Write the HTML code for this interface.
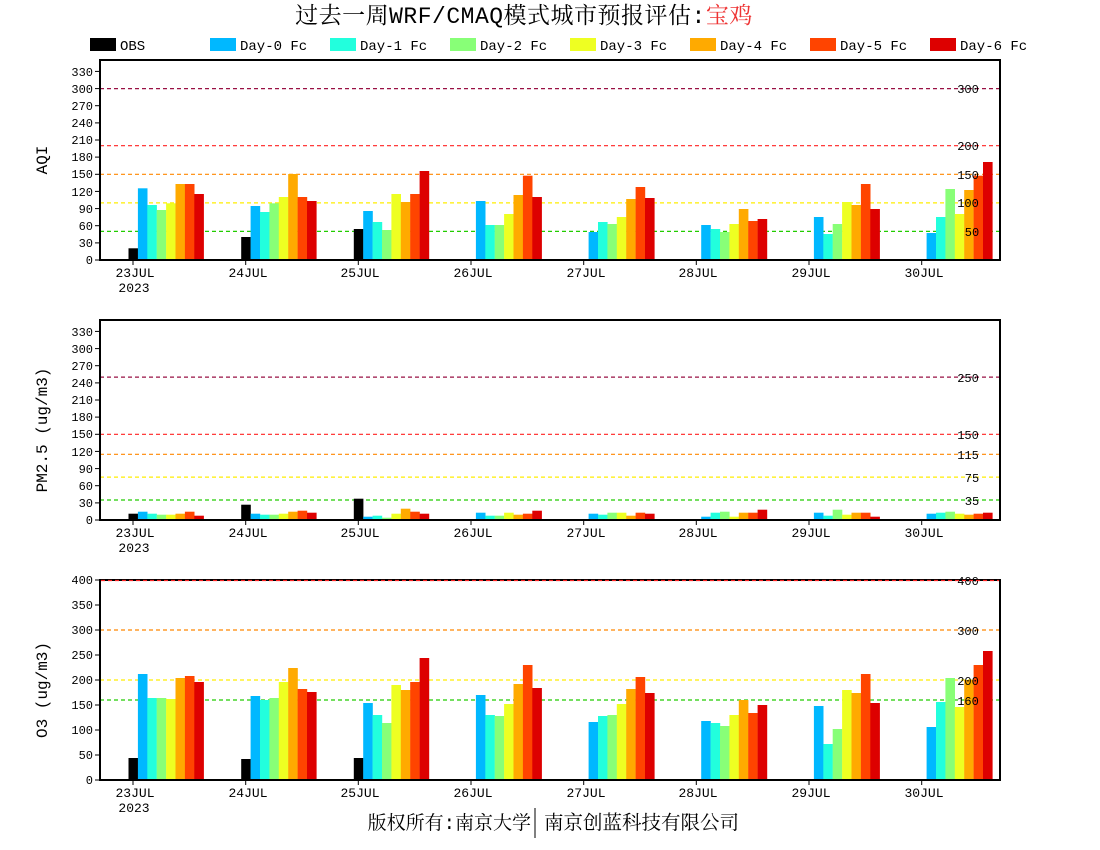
<!DOCTYPE html>
<html><head><meta charset="utf-8"><style>
html,body{margin:0;padding:0;background:#fff;}
svg{display:block;}
text{font-family:"Liberation Mono","Noto Sans CJK SC",monospace;}
.yl{font-size:12px;text-anchor:end;}
.rl{font-size:12px;text-anchor:middle;}
.xl{font-size:13px;text-anchor:middle;}
</style></head><body>
<svg width="1100" height="850" viewBox="0 0 1100 850" xmlns="http://www.w3.org/2000/svg">
<!-- Title -->
<text x="524" y="23" text-anchor="middle" style="font-family:'Liberation Mono','Noto Serif CJK SC',serif;font-size:23px;letter-spacing:0.5px">过去一周WRF/CMAQ模式城市预报评估:<tspan fill="#ee3333">宝鸡</tspan></text>
<!-- Legend -->
<g style="font-size:14px">
<rect x="90" y="38" width="26" height="13" fill="#000"/><text x="120" y="50">OBS</text>
<rect x="210" y="38" width="26" height="13" fill="#00b8ff"/><text x="240" y="50">Day-0 Fc</text>
<rect x="330" y="38" width="26" height="13" fill="#22ffdd"/><text x="360" y="50">Day-1 Fc</text>
<rect x="450" y="38" width="26" height="13" fill="#88ff77"/><text x="480" y="50">Day-2 Fc</text>
<rect x="570" y="38" width="26" height="13" fill="#eeff22"/><text x="600" y="50">Day-3 Fc</text>
<rect x="690" y="38" width="26" height="13" fill="#ffaa00"/><text x="720" y="50">Day-4 Fc</text>
<rect x="810" y="38" width="26" height="13" fill="#ff4400"/><text x="840" y="50">Day-5 Fc</text>
<rect x="930" y="38" width="26" height="13" fill="#dd0000"/><text x="960" y="50">Day-6 Fc</text>
</g>

<!-- ========== PANEL 1 AQI ========== -->
<g stroke-dasharray="4,3" stroke-width="1.2">
<line x1="100" x2="1000" y1="88.6" y2="88.6" stroke="#991144"/>
<line x1="100" x2="1000" y1="145.7" y2="145.7" stroke="#ff2222"/>
<line x1="100" x2="1000" y1="174.3" y2="174.3" stroke="#ff8800"/>
<line x1="100" x2="1000" y1="202.9" y2="202.9" stroke="#ffee00"/>
<line x1="100" x2="1000" y1="231.4" y2="231.4" stroke="#22cc00"/>
</g>
<g class="bars">
<g transform="translate(133,260) scale(1,-1)"><rect x="-4.5" y="0" width="9.6" height="11.7" fill="#000"/><rect x="4.9" y="0" width="9.6" height="71.7" fill="#00b8ff"/><rect x="14.3" y="0" width="9.6" height="55" fill="#22ffdd"/><rect x="23.7" y="0" width="9.6" height="50" fill="#88ff77"/><rect x="33.1" y="0" width="9.6" height="56.7" fill="#eeff22"/><rect x="42.5" y="0" width="9.6" height="76" fill="#ffaa00"/><rect x="51.9" y="0" width="9.6" height="76" fill="#ff4400"/><rect x="61.3" y="0" width="9.6" height="66" fill="#dd0000"/></g>
<g transform="translate(245.7,260) scale(1,-1)"><rect x="-4.5" y="0" width="9.6" height="23" fill="#000"/><rect x="4.9" y="0" width="9.6" height="54" fill="#00b8ff"/><rect x="14.3" y="0" width="9.6" height="48" fill="#22ffdd"/><rect x="23.7" y="0" width="9.6" height="56.7" fill="#88ff77"/><rect x="33.1" y="0" width="9.6" height="63" fill="#eeff22"/><rect x="42.5" y="0" width="9.6" height="86" fill="#ffaa00"/><rect x="51.9" y="0" width="9.6" height="63" fill="#ff4400"/><rect x="61.3" y="0" width="9.6" height="59" fill="#dd0000"/></g>
<g transform="translate(358.3,260) scale(1,-1)"><rect x="-4.5" y="0" width="9.6" height="31" fill="#000"/><rect x="4.9" y="0" width="9.6" height="49" fill="#00b8ff"/><rect x="14.3" y="0" width="9.6" height="38" fill="#22ffdd"/><rect x="23.7" y="0" width="9.6" height="30" fill="#88ff77"/><rect x="33.1" y="0" width="9.6" height="66" fill="#eeff22"/><rect x="42.5" y="0" width="9.6" height="58" fill="#ffaa00"/><rect x="51.9" y="0" width="9.6" height="66" fill="#ff4400"/><rect x="61.3" y="0" width="9.6" height="89" fill="#dd0000"/></g>
<g transform="translate(471,260) scale(1,-1)"><rect x="4.9" y="0" width="9.6" height="59" fill="#00b8ff"/><rect x="14.3" y="0" width="9.6" height="35" fill="#22ffdd"/><rect x="23.7" y="0" width="9.6" height="35" fill="#88ff77"/><rect x="33.1" y="0" width="9.6" height="46" fill="#eeff22"/><rect x="42.5" y="0" width="9.6" height="65" fill="#ffaa00"/><rect x="51.9" y="0" width="9.6" height="84.3" fill="#ff4400"/><rect x="61.3" y="0" width="9.6" height="63" fill="#dd0000"/></g>
<g transform="translate(583.7,260) scale(1,-1)"><rect x="4.9" y="0" width="9.6" height="28" fill="#00b8ff"/><rect x="14.3" y="0" width="9.6" height="38" fill="#22ffdd"/><rect x="23.7" y="0" width="9.6" height="36" fill="#88ff77"/><rect x="33.1" y="0" width="9.6" height="43" fill="#eeff22"/><rect x="42.5" y="0" width="9.6" height="61" fill="#ffaa00"/><rect x="51.9" y="0" width="9.6" height="73" fill="#ff4400"/><rect x="61.3" y="0" width="9.6" height="62" fill="#dd0000"/></g>
<g transform="translate(696.3,260) scale(1,-1)"><rect x="4.9" y="0" width="9.6" height="35" fill="#00b8ff"/><rect x="14.3" y="0" width="9.6" height="31" fill="#22ffdd"/><rect x="23.7" y="0" width="9.6" height="28" fill="#88ff77"/><rect x="33.1" y="0" width="9.6" height="36" fill="#eeff22"/><rect x="42.5" y="0" width="9.6" height="51" fill="#ffaa00"/><rect x="51.9" y="0" width="9.6" height="39" fill="#ff4400"/><rect x="61.3" y="0" width="9.6" height="41" fill="#dd0000"/></g>
<g transform="translate(809,260) scale(1,-1)"><rect x="4.9" y="0" width="9.6" height="43" fill="#00b8ff"/><rect x="14.3" y="0" width="9.6" height="26" fill="#22ffdd"/><rect x="23.7" y="0" width="9.6" height="36" fill="#88ff77"/><rect x="33.1" y="0" width="9.6" height="58" fill="#eeff22"/><rect x="42.5" y="0" width="9.6" height="55" fill="#ffaa00"/><rect x="51.9" y="0" width="9.6" height="76" fill="#ff4400"/><rect x="61.3" y="0" width="9.6" height="51" fill="#dd0000"/></g>
<g transform="translate(921.7,260) scale(1,-1)"><rect x="4.9" y="0" width="9.6" height="27" fill="#00b8ff"/><rect x="14.3" y="0" width="9.6" height="43" fill="#22ffdd"/><rect x="23.7" y="0" width="9.6" height="71" fill="#88ff77"/><rect x="33.1" y="0" width="9.6" height="46" fill="#eeff22"/><rect x="42.5" y="0" width="9.6" height="70" fill="#ffaa00"/><rect x="51.9" y="0" width="9.6" height="84.3" fill="#ff4400"/><rect x="61.3" y="0" width="9.6" height="98" fill="#dd0000"/></g>
</g>
<g class="rl"><text x="968" y="93">300</text><text x="968" y="150">200</text><text x="968" y="179">150</text><text x="968" y="207">100</text><text x="972" y="236">50</text></g>
<rect x="100" y="60" width="900" height="200" fill="none" stroke="#000" stroke-width="2"/>
<g stroke="#000" stroke-width="1">
<line x1="95" x2="100" y1="260" y2="260"/><line x1="95" x2="100" y1="242.9" y2="242.9"/><line x1="95" x2="100" y1="225.7" y2="225.7"/><line x1="95" x2="100" y1="208.6" y2="208.6"/><line x1="95" x2="100" y1="191.4" y2="191.4"/><line x1="95" x2="100" y1="174.3" y2="174.3"/><line x1="95" x2="100" y1="157.1" y2="157.1"/><line x1="95" x2="100" y1="140" y2="140"/><line x1="95" x2="100" y1="122.9" y2="122.9"/><line x1="95" x2="100" y1="105.7" y2="105.7"/><line x1="95" x2="100" y1="88.6" y2="88.6"/><line x1="95" x2="100" y1="71.4" y2="71.4"/>
<line x1="133" x2="133" y1="260" y2="265"/><line x1="245.7" x2="245.7" y1="260" y2="265"/><line x1="358.3" x2="358.3" y1="260" y2="265"/><line x1="471" x2="471" y1="260" y2="265"/><line x1="583.7" x2="583.7" y1="260" y2="265"/><line x1="696.3" x2="696.3" y1="260" y2="265"/><line x1="809" x2="809" y1="260" y2="265"/><line x1="921.7" x2="921.7" y1="260" y2="265"/>
</g>
<g class="yl"><text x="93" y="264">0</text><text x="93" y="247">30</text><text x="93" y="230">60</text><text x="93" y="213">90</text><text x="93" y="196">120</text><text x="93" y="178">150</text><text x="93" y="161">180</text><text x="93" y="144">210</text><text x="93" y="127">240</text><text x="93" y="110">270</text><text x="93" y="93">300</text><text x="93" y="76">330</text></g>
<g class="xl"><text x="135" y="277">23JUL</text><text x="134" y="292">2023</text><text x="248" y="277">24JUL</text><text x="360" y="277">25JUL</text><text x="473" y="277">26JUL</text><text x="586" y="277">27JUL</text><text x="698" y="277">28JUL</text><text x="811" y="277">29JUL</text><text x="924" y="277">30JUL</text></g>
<text transform="translate(47,160) rotate(-90)" text-anchor="middle" style="font-size:16px">AQI</text>

<!-- ========== PANEL 2 PM2.5 ========== -->
<g stroke-dasharray="4,3" stroke-width="1.2">
<line x1="100" x2="1000" y1="377.1" y2="377.1" stroke="#991144"/>
<line x1="100" x2="1000" y1="434.3" y2="434.3" stroke="#ff2222"/>
<line x1="100" x2="1000" y1="454.3" y2="454.3" stroke="#ff8800"/>
<line x1="100" x2="1000" y1="477.1" y2="477.1" stroke="#ffee00"/>
<line x1="100" x2="1000" y1="500" y2="500" stroke="#22cc00"/>
</g>
<g>
<g transform="translate(133,520) scale(1,-1)"><rect x="-4.5" y="0" width="9.6" height="6.3" fill="#000"/><rect x="4.9" y="0" width="9.6" height="8.3" fill="#00b8ff"/><rect x="14.3" y="0" width="9.6" height="6.3" fill="#22ffdd"/><rect x="23.7" y="0" width="9.6" height="5.3" fill="#88ff77"/><rect x="33.1" y="0" width="9.6" height="5.3" fill="#eeff22"/><rect x="42.5" y="0" width="9.6" height="6.3" fill="#ffaa00"/><rect x="51.9" y="0" width="9.6" height="8.3" fill="#ff4400"/><rect x="61.3" y="0" width="9.6" height="4.3" fill="#dd0000"/></g>
<g transform="translate(245.7,520) scale(1,-1)"><rect x="-4.5" y="0" width="9.6" height="15.3" fill="#000"/><rect x="4.9" y="0" width="9.6" height="6.3" fill="#00b8ff"/><rect x="14.3" y="0" width="9.6" height="5.3" fill="#22ffdd"/><rect x="23.7" y="0" width="9.6" height="5.3" fill="#88ff77"/><rect x="33.1" y="0" width="9.6" height="6.3" fill="#eeff22"/><rect x="42.5" y="0" width="9.6" height="8.3" fill="#ffaa00"/><rect x="51.9" y="0" width="9.6" height="9.3" fill="#ff4400"/><rect x="61.3" y="0" width="9.6" height="7.3" fill="#dd0000"/></g>
<g transform="translate(358.3,520) scale(1,-1)"><rect x="-4.5" y="0" width="9.6" height="21.3" fill="#000"/><rect x="4.9" y="0" width="9.6" height="3.3" fill="#00b8ff"/><rect x="14.3" y="0" width="9.6" height="4.3" fill="#22ffdd"/><rect x="23.7" y="0" width="9.6" height="2.3" fill="#88ff77"/><rect x="33.1" y="0" width="9.6" height="6.3" fill="#eeff22"/><rect x="42.5" y="0" width="9.6" height="11.3" fill="#ffaa00"/><rect x="51.9" y="0" width="9.6" height="8.3" fill="#ff4400"/><rect x="61.3" y="0" width="9.6" height="6.3" fill="#dd0000"/></g>
<g transform="translate(471,520) scale(1,-1)"><rect x="4.9" y="0" width="9.6" height="7.3" fill="#00b8ff"/><rect x="14.3" y="0" width="9.6" height="4.3" fill="#22ffdd"/><rect x="23.7" y="0" width="9.6" height="4.3" fill="#88ff77"/><rect x="33.1" y="0" width="9.6" height="7.3" fill="#eeff22"/><rect x="42.5" y="0" width="9.6" height="5.3" fill="#ffaa00"/><rect x="51.9" y="0" width="9.6" height="6.3" fill="#ff4400"/><rect x="61.3" y="0" width="9.6" height="9.3" fill="#dd0000"/></g>
<g transform="translate(583.7,520) scale(1,-1)"><rect x="4.9" y="0" width="9.6" height="6.3" fill="#00b8ff"/><rect x="14.3" y="0" width="9.6" height="5.3" fill="#22ffdd"/><rect x="23.7" y="0" width="9.6" height="7.3" fill="#88ff77"/><rect x="33.1" y="0" width="9.6" height="7.3" fill="#eeff22"/><rect x="42.5" y="0" width="9.6" height="4.3" fill="#ffaa00"/><rect x="51.9" y="0" width="9.6" height="7.3" fill="#ff4400"/><rect x="61.3" y="0" width="9.6" height="6.3" fill="#dd0000"/></g>
<g transform="translate(696.3,520) scale(1,-1)"><rect x="4.9" y="0" width="9.6" height="3.3" fill="#00b8ff"/><rect x="14.3" y="0" width="9.6" height="7.3" fill="#22ffdd"/><rect x="23.7" y="0" width="9.6" height="8.3" fill="#88ff77"/><rect x="33.1" y="0" width="9.6" height="3.3" fill="#eeff22"/><rect x="42.5" y="0" width="9.6" height="7.3" fill="#ffaa00"/><rect x="51.9" y="0" width="9.6" height="7.3" fill="#ff4400"/><rect x="61.3" y="0" width="9.6" height="10.3" fill="#dd0000"/></g>
<g transform="translate(809,520) scale(1,-1)"><rect x="4.9" y="0" width="9.6" height="7.3" fill="#00b8ff"/><rect x="14.3" y="0" width="9.6" height="4.3" fill="#22ffdd"/><rect x="23.7" y="0" width="9.6" height="10.3" fill="#88ff77"/><rect x="33.1" y="0" width="9.6" height="5.3" fill="#eeff22"/><rect x="42.5" y="0" width="9.6" height="7.3" fill="#ffaa00"/><rect x="51.9" y="0" width="9.6" height="7.3" fill="#ff4400"/><rect x="61.3" y="0" width="9.6" height="3.3" fill="#dd0000"/></g>
<g transform="translate(921.7,520) scale(1,-1)"><rect x="4.9" y="0" width="9.6" height="6.3" fill="#00b8ff"/><rect x="14.3" y="0" width="9.6" height="7.3" fill="#22ffdd"/><rect x="23.7" y="0" width="9.6" height="8.3" fill="#88ff77"/><rect x="33.1" y="0" width="9.6" height="6.3" fill="#eeff22"/><rect x="42.5" y="0" width="9.6" height="5.3" fill="#ffaa00"/><rect x="51.9" y="0" width="9.6" height="6.3" fill="#ff4400"/><rect x="61.3" y="0" width="9.6" height="7.3" fill="#dd0000"/></g>
</g>
<g class="rl"><text x="968" y="382">250</text><text x="968" y="439">150</text><text x="968" y="459">115</text><text x="972" y="482">75</text><text x="972" y="505">35</text></g>
<rect x="100" y="320" width="900" height="200" fill="none" stroke="#000" stroke-width="2"/>
<g stroke="#000" stroke-width="1">
<line x1="95" x2="100" y1="520" y2="520"/><line x1="95" x2="100" y1="502.9" y2="502.9"/><line x1="95" x2="100" y1="485.7" y2="485.7"/><line x1="95" x2="100" y1="468.6" y2="468.6"/><line x1="95" x2="100" y1="451.4" y2="451.4"/><line x1="95" x2="100" y1="434.3" y2="434.3"/><line x1="95" x2="100" y1="417.1" y2="417.1"/><line x1="95" x2="100" y1="400" y2="400"/><line x1="95" x2="100" y1="382.9" y2="382.9"/><line x1="95" x2="100" y1="365.7" y2="365.7"/><line x1="95" x2="100" y1="348.6" y2="348.6"/><line x1="95" x2="100" y1="331.4" y2="331.4"/>
<line x1="133" x2="133" y1="520" y2="525"/><line x1="245.7" x2="245.7" y1="520" y2="525"/><line x1="358.3" x2="358.3" y1="520" y2="525"/><line x1="471" x2="471" y1="520" y2="525"/><line x1="583.7" x2="583.7" y1="520" y2="525"/><line x1="696.3" x2="696.3" y1="520" y2="525"/><line x1="809" x2="809" y1="520" y2="525"/><line x1="921.7" x2="921.7" y1="520" y2="525"/>
</g>
<g class="yl"><text x="93" y="524">0</text><text x="93" y="507">30</text><text x="93" y="490">60</text><text x="93" y="473">90</text><text x="93" y="456">120</text><text x="93" y="438">150</text><text x="93" y="421">180</text><text x="93" y="404">210</text><text x="93" y="387">240</text><text x="93" y="370">270</text><text x="93" y="353">300</text><text x="93" y="336">330</text></g>
<g class="xl"><text x="135" y="537">23JUL</text><text x="134" y="552">2023</text><text x="248" y="537">24JUL</text><text x="360" y="537">25JUL</text><text x="473" y="537">26JUL</text><text x="586" y="537">27JUL</text><text x="698" y="537">28JUL</text><text x="811" y="537">29JUL</text><text x="924" y="537">30JUL</text></g>
<text transform="translate(47,430) rotate(-90)" text-anchor="middle" style="font-size:16px">PM2.5 (ug/m3)</text>

<!-- ========== PANEL 3 O3 ========== -->
<g stroke-dasharray="4,3" stroke-width="1.2">
<line x1="100" x2="1000" y1="630" y2="630" stroke="#ff8800"/>
<line x1="100" x2="1000" y1="680" y2="680" stroke="#ffee00"/>
<line x1="100" x2="1000" y1="700" y2="700" stroke="#22cc00"/>
</g>
<g>
<g transform="translate(133,780) scale(1,-1)"><rect x="-4.5" y="0" width="9.6" height="22" fill="#000"/><rect x="4.9" y="0" width="9.6" height="106" fill="#00b8ff"/><rect x="14.3" y="0" width="9.6" height="82" fill="#22ffdd"/><rect x="23.7" y="0" width="9.6" height="82" fill="#88ff77"/><rect x="33.1" y="0" width="9.6" height="81" fill="#eeff22"/><rect x="42.5" y="0" width="9.6" height="102" fill="#ffaa00"/><rect x="51.9" y="0" width="9.6" height="104" fill="#ff4400"/><rect x="61.3" y="0" width="9.6" height="98" fill="#dd0000"/></g>
<g transform="translate(245.7,780) scale(1,-1)"><rect x="-4.5" y="0" width="9.6" height="21" fill="#000"/><rect x="4.9" y="0" width="9.6" height="84" fill="#00b8ff"/><rect x="14.3" y="0" width="9.6" height="80" fill="#22ffdd"/><rect x="23.7" y="0" width="9.6" height="82" fill="#88ff77"/><rect x="33.1" y="0" width="9.6" height="98" fill="#eeff22"/><rect x="42.5" y="0" width="9.6" height="112" fill="#ffaa00"/><rect x="51.9" y="0" width="9.6" height="91" fill="#ff4400"/><rect x="61.3" y="0" width="9.6" height="88" fill="#dd0000"/></g>
<g transform="translate(358.3,780) scale(1,-1)"><rect x="-4.5" y="0" width="9.6" height="22" fill="#000"/><rect x="4.9" y="0" width="9.6" height="77" fill="#00b8ff"/><rect x="14.3" y="0" width="9.6" height="65" fill="#22ffdd"/><rect x="23.7" y="0" width="9.6" height="57" fill="#88ff77"/><rect x="33.1" y="0" width="9.6" height="95" fill="#eeff22"/><rect x="42.5" y="0" width="9.6" height="90" fill="#ffaa00"/><rect x="51.9" y="0" width="9.6" height="98" fill="#ff4400"/><rect x="61.3" y="0" width="9.6" height="122" fill="#dd0000"/></g>
<g transform="translate(471,780) scale(1,-1)"><rect x="4.9" y="0" width="9.6" height="85" fill="#00b8ff"/><rect x="14.3" y="0" width="9.6" height="65" fill="#22ffdd"/><rect x="23.7" y="0" width="9.6" height="64" fill="#88ff77"/><rect x="33.1" y="0" width="9.6" height="76" fill="#eeff22"/><rect x="42.5" y="0" width="9.6" height="96" fill="#ffaa00"/><rect x="51.9" y="0" width="9.6" height="115" fill="#ff4400"/><rect x="61.3" y="0" width="9.6" height="92" fill="#dd0000"/></g>
<g transform="translate(583.7,780) scale(1,-1)"><rect x="4.9" y="0" width="9.6" height="58" fill="#00b8ff"/><rect x="14.3" y="0" width="9.6" height="64" fill="#22ffdd"/><rect x="23.7" y="0" width="9.6" height="65" fill="#88ff77"/><rect x="33.1" y="0" width="9.6" height="76" fill="#eeff22"/><rect x="42.5" y="0" width="9.6" height="91" fill="#ffaa00"/><rect x="51.9" y="0" width="9.6" height="103" fill="#ff4400"/><rect x="61.3" y="0" width="9.6" height="87" fill="#dd0000"/></g>
<g transform="translate(696.3,780) scale(1,-1)"><rect x="4.9" y="0" width="9.6" height="59" fill="#00b8ff"/><rect x="14.3" y="0" width="9.6" height="57" fill="#22ffdd"/><rect x="23.7" y="0" width="9.6" height="54" fill="#88ff77"/><rect x="33.1" y="0" width="9.6" height="65" fill="#eeff22"/><rect x="42.5" y="0" width="9.6" height="80" fill="#ffaa00"/><rect x="51.9" y="0" width="9.6" height="67" fill="#ff4400"/><rect x="61.3" y="0" width="9.6" height="75" fill="#dd0000"/></g>
<g transform="translate(809,780) scale(1,-1)"><rect x="4.9" y="0" width="9.6" height="74" fill="#00b8ff"/><rect x="14.3" y="0" width="9.6" height="36" fill="#22ffdd"/><rect x="23.7" y="0" width="9.6" height="51" fill="#88ff77"/><rect x="33.1" y="0" width="9.6" height="90" fill="#eeff22"/><rect x="42.5" y="0" width="9.6" height="87" fill="#ffaa00"/><rect x="51.9" y="0" width="9.6" height="106" fill="#ff4400"/><rect x="61.3" y="0" width="9.6" height="77" fill="#dd0000"/></g>
<g transform="translate(921.7,780) scale(1,-1)"><rect x="4.9" y="0" width="9.6" height="53" fill="#00b8ff"/><rect x="14.3" y="0" width="9.6" height="78" fill="#22ffdd"/><rect x="23.7" y="0" width="9.6" height="102" fill="#88ff77"/><rect x="33.1" y="0" width="9.6" height="73" fill="#eeff22"/><rect x="42.5" y="0" width="9.6" height="100" fill="#ffaa00"/><rect x="51.9" y="0" width="9.6" height="115" fill="#ff4400"/><rect x="61.3" y="0" width="9.6" height="129" fill="#dd0000"/></g>
</g>
<g class="rl"><text x="968" y="585">400</text><text x="968" y="635">300</text><text x="968" y="685">200</text><text x="968" y="705">160</text></g>
<rect x="100" y="580" width="900" height="200" fill="none" stroke="#000" stroke-width="2"/>
<line x1="101" x2="999" y1="580.5" y2="580.5" stroke="#ff2222" stroke-width="1.2" stroke-dasharray="4,3"/>
<g stroke="#000" stroke-width="1">
<line x1="95" x2="100" y1="780" y2="780"/><line x1="95" x2="100" y1="755" y2="755"/><line x1="95" x2="100" y1="730" y2="730"/><line x1="95" x2="100" y1="705" y2="705"/><line x1="95" x2="100" y1="680" y2="680"/><line x1="95" x2="100" y1="655" y2="655"/><line x1="95" x2="100" y1="630" y2="630"/><line x1="95" x2="100" y1="605" y2="605"/><line x1="95" x2="100" y1="580" y2="580"/>
<line x1="133" x2="133" y1="780" y2="785"/><line x1="245.7" x2="245.7" y1="780" y2="785"/><line x1="358.3" x2="358.3" y1="780" y2="785"/><line x1="471" x2="471" y1="780" y2="785"/><line x1="583.7" x2="583.7" y1="780" y2="785"/><line x1="696.3" x2="696.3" y1="780" y2="785"/><line x1="809" x2="809" y1="780" y2="785"/><line x1="921.7" x2="921.7" y1="780" y2="785"/>
</g>
<g class="yl"><text x="93" y="784">0</text><text x="93" y="759">50</text><text x="93" y="734">100</text><text x="93" y="709">150</text><text x="93" y="684">200</text><text x="93" y="659">250</text><text x="93" y="634">300</text><text x="93" y="609">350</text><text x="93" y="584">400</text></g>
<g class="xl"><text x="135" y="797">23JUL</text><text x="134" y="812">2023</text><text x="248" y="797">24JUL</text><text x="360" y="797">25JUL</text><text x="473" y="797">26JUL</text><text x="586" y="797">27JUL</text><text x="698" y="797">28JUL</text><text x="811" y="797">29JUL</text><text x="924" y="797">30JUL</text></g>
<text transform="translate(47,690) rotate(-90)" text-anchor="middle" style="font-size:16px">O3 (ug/m3)</text>

<!-- Footer -->
<text x="531" y="829" text-anchor="end" style="font-family:'Liberation Mono','Noto Serif CJK SC',serif;font-size:19px">版权所有:南京大学</text>
<line x1="535" x2="535" y1="808" y2="838" stroke="#000" stroke-width="1"/>
<text x="544" y="829" style="font-family:'Liberation Mono','Noto Serif CJK SC',serif;font-size:19.5px">南京创蓝科技有限公司</text>
</svg>
</body></html>
